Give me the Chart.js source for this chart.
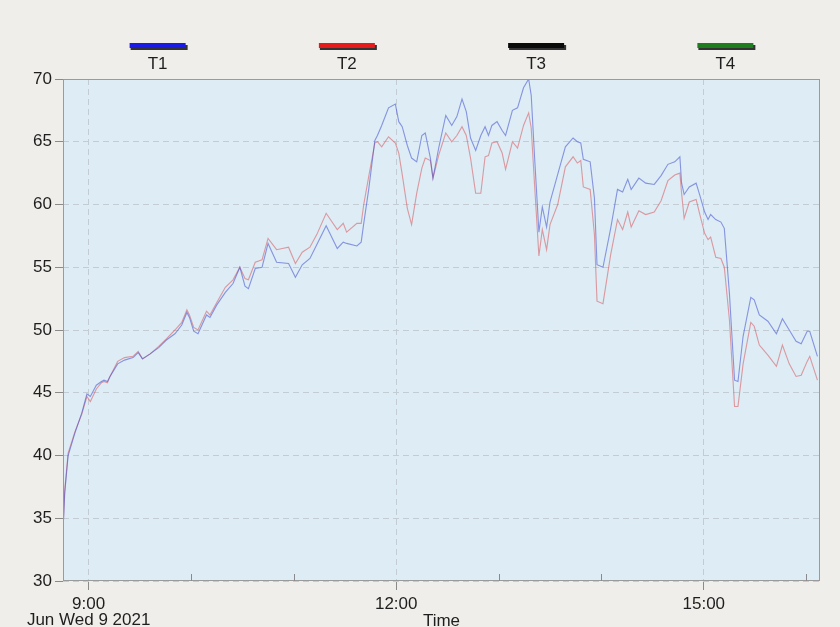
<!DOCTYPE html>
<html>
<head>
<meta charset="utf-8">
<script src="https://cdn.jsdelivr.net/npm/chart.js@4.4.1/dist/chart.umd.min.js"></script>
<style>
   html, body { margin: 0; padding: 0; background: #efeeea; }
</style>
</head>
<body>
<canvas id="line-chart" width="840" height="627"></canvas>
<script>
// minutes after midnight (525 = 8:45)
const times = [525, 526, 528, 532, 536, 539, 541, 544.5, 547.5, 549, 551, 552.5, 557, 561, 566, 569, 571.5, 576, 581, 585.5,
   590.5, 594.5, 597.5, 599, 601.5, 604, 609, 611, 615, 620, 624.5, 628.5, 631.5, 633.5, 637.5, 641.5, 645, 650, 657, 661,
   665, 669.5, 673.5, 679, 685.5, 689, 691, 697, 699.5, 701, 704, 707.5, 709, 711.5, 715.5, 719.5, 721.5, 723.5, 726.5, 729,
   732, 735, 737, 740, 741.5, 745, 749, 752.5, 755.5, 758.5, 761, 763.5, 766.5, 769.5, 772, 774, 776, 779, 782, 784,
   788, 791, 794.5, 797.5, 799, 801, 803.5, 805.5, 808, 810, 814.5, 819, 823.5, 826, 828, 829.5, 833.5, 836, 837.5, 841,
   845.5, 849.5, 852.5, 855.5, 857.5, 862, 866, 871, 875, 879, 883, 886, 887, 888.5, 891.5, 895.5, 897.5, 900.5, 902.5, 904,
   907, 910, 912, 915, 918, 920, 923, 927.5, 929.5, 932.5, 937.5, 942.5, 946, 950, 954, 957, 960.5, 962, 966.5];

const t1 = [34.0, 37.0, 40.0, 41.8, 43.4, 44.9, 44.7, 45.6, 45.9, 46.0, 45.9, 46.3, 47.3, 47.6, 47.8, 48.2, 47.7, 48.1, 48.6, 49.2,
   49.7, 50.4, 51.4, 51.0, 49.9, 49.7, 51.2, 51.0, 52.0, 53.0, 53.7, 55.0, 53.5, 53.3, 54.9, 55.0, 56.9, 55.4, 55.3, 54.2,
   55.2, 55.7, 56.8, 58.3, 56.5, 57.0, 56.9, 56.7, 57.0, 58.5, 61.3, 65.1, 65.5, 66.3, 67.7, 68.0, 66.6, 66.2, 64.7, 63.7,
   63.4, 65.5, 65.7, 63.7, 62.1, 64.6, 67.1, 66.3, 67.0, 68.4, 67.4, 65.3, 64.3, 65.5, 66.2, 65.5, 66.3, 66.6, 65.9, 65.5,
   67.5, 67.7, 69.3, 70.0, 68.7, 63.7, 57.8, 59.8, 58.2, 60.2, 62.4, 64.6, 65.3, 65.0, 64.9, 63.6, 63.4, 60.5, 55.2, 55.0,
   58.1, 61.2, 61.0, 62.0, 61.2, 62.1, 61.7, 61.6, 62.3, 63.2, 63.4, 63.8, 61.7, 60.8, 61.4, 61.7, 60.8, 59.4, 58.8, 59.2,
   58.8, 58.6, 58.1, 52.9, 46.0, 45.9, 49.5, 52.6, 52.4, 51.2, 50.7, 49.7, 50.9, 50.0, 49.1, 48.9, 49.9, 49.9, 47.9];

const t2 = [34.0, 37.2, 40.2, 41.9, 43.3, 44.7, 44.3, 45.3, 45.8, 45.9, 45.8, 46.3, 47.5, 47.8, 47.9, 48.3, 47.7, 48.1, 48.7, 49.3,
   50.0, 50.6, 51.6, 51.2, 50.2, 50.0, 51.5, 51.2, 52.2, 53.4, 54.0, 55.0, 54.1, 54.0, 55.4, 55.6, 57.3, 56.4, 56.6, 55.3,
   56.2, 56.6, 57.6, 59.3, 58.0, 58.5, 57.8, 58.5, 58.5, 60.0, 62.3, 64.9, 65.0, 64.6, 65.4, 64.9, 64.1, 62.4, 59.7, 58.4,
   60.9, 62.9, 63.7, 63.5, 62.1, 64.0, 65.7, 65.0, 65.5, 66.2, 65.5, 63.7, 60.9, 60.9, 63.8, 63.9, 64.9, 65.0, 64.1, 62.8,
   65.0, 64.5, 66.3, 67.3, 66.1, 61.5, 55.9, 58.0, 56.4, 58.4, 60.0, 63.0, 63.8, 63.3, 63.5, 61.4, 61.2, 57.6, 52.3, 52.1,
   56.0, 58.8, 58.0, 59.4, 58.2, 59.5, 59.2, 59.4, 60.3, 61.9, 62.35, 62.5, 60.9, 58.9, 60.2, 60.4, 59.3, 57.7, 57.2, 57.4,
   55.8, 55.7, 55.0, 50.8, 43.9, 43.9, 47.3, 50.6, 50.3, 48.8, 48.0, 47.1, 48.8, 47.3, 46.3, 46.4, 47.5, 47.9, 46.0];

const seriesNames = ["T1", "T2", "T3", "T4"];
const hourTicks = [540, 600, 660, 720, 780, 840, 900, 960];
const yTicks = [30, 35, 40, 45, 50, 55, 60, 65, 70];

Chart.defaults.font.family = "'Liberation Sans Narrow', 'Liberation Sans', Arial, sans-serif";
Chart.defaults.font.size = 17;
Chart.defaults.color = '#1e1e1e';

function hhmm(v) {
   const h = Math.floor(v / 60), m = Math.round(v % 60);
   return h + ':' + (m < 10 ? '0' : '') + m;
}

// fond gris + zone bleue + cadre + legende en haut
const decor = {
   id: 'decor',
   beforeDraw(chart) {
      const c = chart.ctx, a = chart.chartArea;
      c.save();
      c.fillStyle = '#efeeea';
      c.fillRect(0, 0, chart.width, chart.height);
      c.fillStyle = '#ddecf5';
      c.fillRect(a.left, a.top, a.right - a.left, a.bottom - a.top);
      c.restore();
   },
   afterDraw(chart) {
      const c = chart.ctx, a = chart.chartArea;
      c.save();
      c.strokeStyle = '#9a9a9a';
      c.lineWidth = 1;
      c.strokeRect(a.left + 0.5, a.top + 0.5, a.right - a.left - 1, a.bottom - a.top - 1);
      // petits traits des heures, vers l'interieur
      const xs = chart.scales.x;
      c.strokeStyle = '#8a8a8a';
      hourTicks.forEach(v => {
         if (v % 180 === 0) return;
         const px = Math.round(xs.getPixelForValue(v)) + 0.5;
         c.beginPath();
         c.moveTo(px, a.bottom);
         c.lineTo(px, a.bottom - 7);
         c.stroke();
      });
      // legende
      const w = (a.right - a.left) / chart.data.datasets.length;
      chart.data.datasets.forEach((ds, i) => {
         const cx = a.left + w * (i + 0.5);
         c.fillStyle = '#333';
         c.fillRect(cx - 27, 45, 57, 5);
         c.fillStyle = ds.legendColor;
         c.fillRect(cx - 28, 43, 56, 5);
         c.fillStyle = '#1e1e1e';
         c.textAlign = 'center';
         c.textBaseline = 'top';
         c.font = "17px 'Liberation Sans Narrow', 'Liberation Sans', Arial, sans-serif";
         c.fillText(ds.label, cx, 56);
      });
      c.restore();
   }
};

const ctx1 = document.getElementById("line-chart");
const chartGraph1 = new Chart(ctx1, {
   type: 'line',
   data: {
      datasets: [{
         label: seriesNames[0],
         data: times.map((t, i) => ({ x: t, y: t1[i] })),
         borderColor: 'rgba(60, 75, 205, 0.55)',
         legendColor: '#1a1ae6',
         borderWidth: 1.1
      }, {
         label: seriesNames[1],
         data: times.map((t, i) => ({ x: t, y: t2[i] })),
         borderColor: 'rgba(215, 70, 75, 0.5)',
         legendColor: '#e61a1a',
         borderWidth: 1.1
      }, {
         label: seriesNames[2],
         data: [],
         borderColor: '#000',
         legendColor: '#0a0a0a'
      }, {
         label: seriesNames[3],
         data: [],
         borderColor: '#1a7a1a',
         legendColor: '#1e7d1e'
      }]
   },
   options: {
      responsive: false,
      animation: false,
      devicePixelRatio: 1,
      elements: { point: { radius: 0 }, line: { tension: 0 } },
      layout: { padding: { top: 79, right: 20, left: 0, bottom: 0 } },
      plugins: {
         legend: { display: false },
         tooltip: { enabled: false }
      },
      scales: {
         x: {
            type: 'linear',
            min: 525,
            max: 968,
            afterBuildTicks: s => { s.ticks = hourTicks.map(v => ({ value: v })); },
            afterFit: s => { s.height = 46; },
            border: { display: false, dash: [6, 4] },
            grid: {
               color: c => (c.tick && c.tick.value % 180 === 0) ? '#c3ccd3' : 'rgba(0,0,0,0)',
               tickColor: c => (c.tick && c.tick.value % 180 === 0) ? '#8a8a8a' : 'rgba(0,0,0,0)',
               tickLength: 9,
               lineWidth: 1
            },
            ticks: {
               maxRotation: 0,
               autoSkip: false,
               padding: 6,
               font: { lineHeight: 0.95 },
               callback: v => v === 540 ? [hhmm(v), 'Jun Wed 9 2021'] : (v % 180 === 0 ? hhmm(v) : '')
            },
            title: {
               display: true,
               text: 'Time',
               padding: { top: 0, bottom: -3 },
               font: { lineHeight: 1.0 }
            }
         },
         y: {
            min: 30,
            max: 70,
            afterBuildTicks: s => { s.ticks = yTicks.map(v => ({ value: v })); },
            afterFit: s => { s.width = 63; },
            border: { display: false, dash: [6, 4] },
            grid: {
               color: '#c3ccd3',
               tickColor: '#8a8a8a',
               tickLength: 8
            },
            ticks: { padding: 3 }
         }
      }
   },
   plugins: [decor]
});
</script>
</body>
</html>
